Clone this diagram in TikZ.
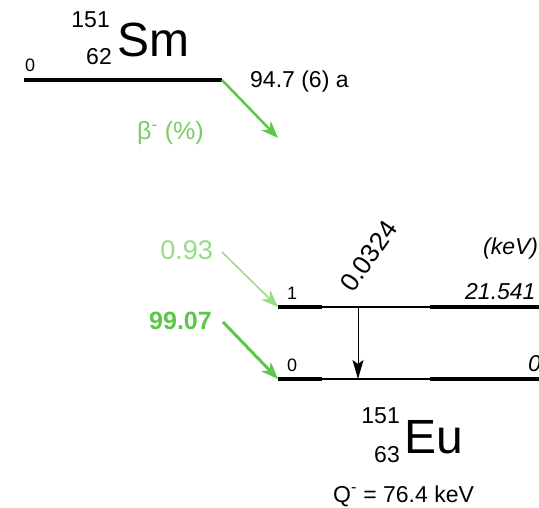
\documentclass[tikz,border=0pt]{standalone}
\usepackage{fontspec}
\setmainfont{Liberation Sans}
\usetikzlibrary{arrows.meta}
\definecolor{grn}{RGB}{92,198,72}
\definecolor{lgrn}{RGB}{150,220,132}
\definecolor{tgrn}{RGB}{122,202,104}
\begin{document}
\begin{tikzpicture}[x=1pt,y=-1pt,
  txt/.style={inner sep=0pt, font=\fontsize{23}{26}\selectfont},
  small/.style={inner sep=0pt, font=\fontsize{18}{20}\selectfont},
  big/.style={inner sep=0pt, font=\fontsize{48}{52}\selectfont},
  itl/.style={inner sep=0pt, font=\fontsize{23}{26}\selectfont\itshape},
  thicklvl/.style={line width=4pt},
  thinlvl/.style={line width=1.6pt},
  betaarrow/.style={-{Stealth[length=17pt,width=13pt,inset=5pt]}}]
\clip (0,0) rectangle (539,508);
% parent level
\coordinate (smL) at (24,80);
\coordinate (smR) at (222,80);
\draw[thicklvl] (smL) -- (smR);
\node[small, anchor=base west] (sm0) at (25,72) {0};
\node[txt, anchor=base east] (smA) at (110,28) {151};
\node[txt, anchor=base east] (smZ) at (112,65) {62};
\node[big, anchor=base west] (sm) at (117,57) {Sm};
\node[txt, anchor=base west] (half) at (250,88) {94.7 (6) a};
\coordinate (betaEnd) at (278,138);
\draw[grn, line width=2.5pt, betaarrow] (smR) -- (betaEnd);
\node[txt, anchor=base west, text=tgrn, font=\fontsize{25}{28}\selectfont] (beta) at (137,140) {β\textsuperscript{-} (\%)};
% daughter levels
\coordinate (a1) at (278,307); \coordinate (b1) at (322,307);
\coordinate (c1) at (430,307); \coordinate (d1) at (545,307);
\coordinate (a0) at (278,379); \coordinate (b0) at (322,379);
\coordinate (c0) at (430,379); \coordinate (d0) at (545,379);
\draw[thicklvl] (a1) -- (b1); \draw[thinlvl] (b1) -- (c1); \draw[thicklvl] (c1) -- (d1);
\draw[thicklvl] (a0) -- (b0); \draw[thinlvl] (b0) -- (c0); \draw[thicklvl] (c0) -- (d0);
\node[small, anchor=base west] (n1) at (287,300) {1};
\node[small, anchor=base west] (n0) at (287,371) {0};
\node[itl, anchor=base west] (e1) at (465,300) {21.541};
\node[itl, anchor=base west] (e0) at (528,371) {0};
\node[itl, anchor=base west] (kev) at (483,255) {(keV)};
\node[inner sep=0pt, font=\fontsize{26}{28}\selectfont, anchor=base west, rotate=55] (gE) at (353,294) {0.0324};
\coordinate (g1) at (358,307);
\coordinate (g0) at (358,379);
\draw[line width=1pt, -{Stealth[length=19pt,width=11pt,inset=4pt]}] (g1) -- (g0);
% feeding arrows
\coordinate (f1s) at (222,252);
\coordinate (f0s) at (223,322);
\draw[lgrn, line width=1.5pt, betaarrow] (f1s) -- (a1);
\draw[grn, line width=3pt, betaarrow] (f0s) -- (a0);
\node[inner sep=0pt, anchor=base east, text=lgrn, font=\fontsize{27}{30}\selectfont] (i1) at (213,260) {0.93};
\node[inner sep=0pt, anchor=base east, text=grn, font=\fontsize{25}{28}\selectfont\bfseries] (i0) at (212,330) {99.07};
% daughter name
\node[txt, anchor=base east] (euA) at (400,423) {151};
\node[txt, anchor=base east] (euZ) at (400,462) {63};
\node[big, anchor=base west] (eu) at (404,453) {Eu};
\node[txt, anchor=base west] (q) at (333,502) {Q\textsuperscript{-} = 76.4 keV};
\end{tikzpicture}
\end{document}
